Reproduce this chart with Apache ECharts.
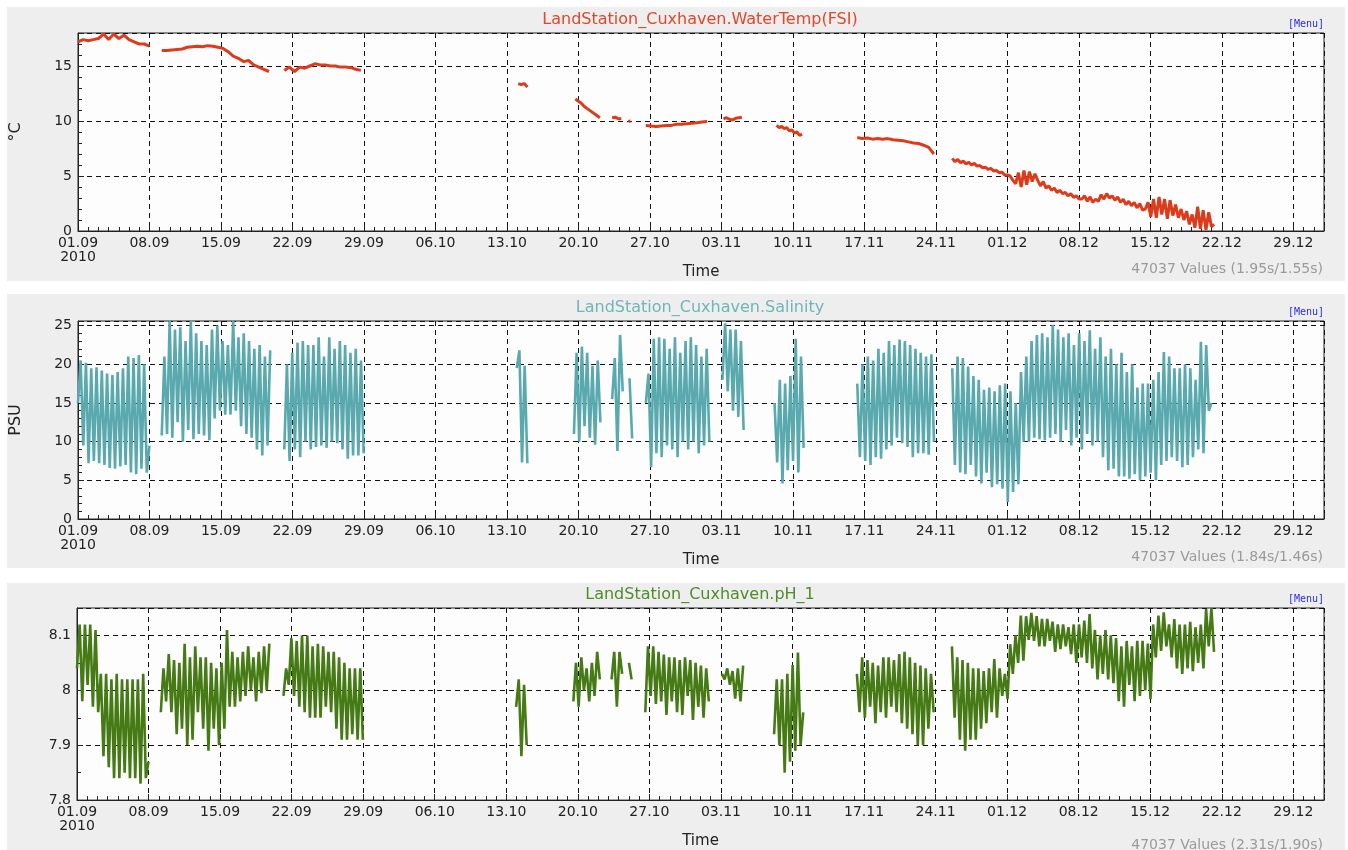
<!DOCTYPE html>
<html><head><meta charset="utf-8">
<script src="https://cdn.jsdelivr.net/npm/echarts@6/dist/echarts.min.js"></script>
<style>html,body{margin:0;padding:0;background:#fff}#c{width:1348px;height:850px}</style>
</head><body><div id="c"></div>
<script>
// ---- tick labels (x axis, one every 7 days from 01.09.2010) ----
const xTickLabels = ['01.09','08.09','15.09','22.09','29.09','06.10','13.10','20.10','27.10','03.11','10.11','17.11','24.11','01.12','08.12','15.12','22.12','29.12'];
const yearLabel = '2010';

// ---- Water temperature (°C): segment start day (offset from 01.09), spacing (days), values ----
const tempStarts = [0, 8.2, 20.2, 43.1, 48.7, 52.3, 53.9, 55.6, 63.2, 68.4, 76.3, 85.6];
const tempSteps  = [0.5, 0.5, 0.5, 0.3, 0.3, 0.3, 0.2, 0.5, 0.3, 0.25, 0.5, 0.27];
const temp1 = [17.2,17.4,17.3,17.4,17.5,17.9,17.4,17.9,17.5,17.8,17.4,17.2,17.0,17.0,16.8];
const temp2 = [16.4,16.4,16.45,16.5,16.55,16.7,16.75,16.8,16.75,16.85,16.8,16.7,16.6,16.3,15.9,15.7,15.4,15.5,15.1,14.9,14.7,14.5];
const temp3 = [14.6,14.9,14.5,14.9,14.8,15.0,15.2,15.1,15.1,15.0,15.0,14.9,14.9,14.85,14.7,14.6];
const temp4 = [13.4,13.3,13.4,13.1];
const temp5 = [12.0,11.8,11.6,11.3,11.1,10.9,10.7,10.5,10.3];
const temp6 = [10.3,10.35,10.2,10.2];
const temp7 = [9.95,10.0];
const temp8 = [9.6,9.55,9.5,9.55,9.6,9.6,9.7,9.7,9.75,9.8,9.85,9.9,9.95];
const temp9 = [10.2,10.3,10.15,10.1,10.25,10.3,10.35];
const temp10 = [9.6,9.4,9.5,9.3,9.4,9.1,9.2,8.9,9.0,8.7,8.8];
const temp11 = [8.5,8.4,8.45,8.35,8.4,8.35,8.4,8.3,8.25,8.2,8.1,8.0,7.95,7.8,7.6,7.0];
const temp12 = [6.6,6.3,6.5,6.2,6.35,6.1,6.25,6.0,6.15,5.9,5.95,5.75,5.8,5.6,5.7,5.45,5.5,5.3,5.35,5.1,5.1,
  5.0,4.6,4.3,5.3,4.0,5.5,4.2,5.4,4.5,5.2,
  4.6,4.1,4.5,3.9,4.1,3.7,3.9,3.5,3.7,3.4,3.5,3.2,3.4,3.05,3.2,2.9,
  2.9,3.2,2.7,3.1,2.6,2.9,2.7,3.3,2.9,3.4,3.0,
  3.2,2.8,3.1,2.6,2.9,2.4,2.7,2.3,2.6,2.1,2.5,1.9,2.0,
  2.6,1.3,2.9,1.2,3.1,1.5,2.9,1.1,2.8,1.4,2.4,1.2,
  2.0,1.0,1.8,0.6,1.5,0.3,2.2,0.2,1.9,0.1,1.7,0.4,0.6];

// ---- Salinity (PSU): alternating tidal highs / lows, spacing = half tidal period ----
const tideStep = 0.259;
const salStarts = [0, 8.2, 20.2, 42.96, 48.56, 52.3, 54.0, 55.6, 63.1, 68.2, 76.3, 85.6];
const sal1 = [15,20.5,9.5,20.2,7.2,19.5,7.5,19.6,7.2,19.2,7.0,18.8,6.6,18.6,6.5,19.0,6.8,19.5,7.0,21.0,6.0,20.8,5.8,21.2,6.5,20.0,6.0,9.5];
const sal2 = [10.8,21,11,25.7,10.5,24.5,12.5,24.8,10,23,11.5,25.6,10.3,24,11,23,10.8,22.5,10.2,24.5,13,25,14,23,13.5,22.5,13.5,25.7,14,23.5,12,24,11,23,10.5,22,9,22.5,8.2,21,9.5,21.8];
const sal3 = [9,20,7.5,21.5,9,22.8,8,23,10,22.5,9,22.5,9.3,23.5,9.5,21,9.2,23.5,10,22,9.8,23,9,22.5,7.8,21.5,8.2,22,8.2,20.5,8.5];
const sal4 = [19.5,21.8,7.3,19.8,7.2];
const sal5 = [11,21.5,10,22.3,12,21.5,10.5,19.8,9.6,20.5,12.5];
const sal6 = [15.5,20.8,8.8,23.8,16.5];
const sal7 = [18.2,10.4];
const sal8 = [15,18.8,6.7,23.3,8.5,23.5,8,23.3,9.5,22,9,23.5,8,21.5,10,23,9,23.5,10,22.5,8.5,21,9.5,22,10];
const sal9 = [18,25.3,16.5,24.5,14,24.5,13.2,23,11.5];
const sal10 = [15,7.3,18,4.6,17.5,6.3,18.5,7.5,23.3,6,21,9.2];
const sal11 = [17.5,8,20,7.5,21,7,20.5,8,22,7.8,21.5,9,23,9.5,22.5,10.5,23.2,9.8,23,9.3,22.5,8,22,8.5,21.5,8.5,21,8.3,21.3,10];
const sal12 = [19.5,7,21,6,20.8,5.8,19.7,7,18.5,5.5,18,4.6,16.7,6,17,4.1,16.5,4.5,17.3,3.9,17.5,
  2.2,16.5,3.5,15,4.5,19,10,21,10,23,10.5,23.8,10.3,24,10.2,23.5,10.5,25.1,11,24.5,10,23.5,11.5,24,9.5,22.5,10.5,
  24,9,23,11,24.4,9.5,22,10,23.5,8,21,6.3,22,6.5,20,5.5,21.5,5.5,19,5.2,20,5.8,17,5,17.5,5.5,17.5,
  6,18,5,19,7,21.6,7.5,21,8,19.5,7.5,19.5,6.7,20,7,19.5,8,18,9,22.9,8.5,22.5,14,15];

// ---- pH ----
const phStarts = [0, 8.2, 20.2, 42.96, 48.56, 52.3, 54.0, 55.6, 63.1, 68.2, 76.3, 85.6];
const ph1 = [8.04,8.12,7.98,8.12,8.01,8.12,7.97,8.11,7.96,8.03,7.88,8.03,7.86,8.02,7.84,8.03,7.84,8.02,7.85,8.02,7.84,8.02,7.84,8.02,7.83,8.03,7.84,7.87];
const ph2 = [7.96,8.04,7.98,8.066,7.96,8.055,7.92,8.05,7.93,8.085,7.90,8.06,7.91,8.08,7.96,8.06,7.93,8.06,7.89,8.05,7.93,8.04,7.90,8.05,7.93,8.11,7.97,8.07,7.97,8.06,7.98,8.07,7.99,8.08,8.0,8.06,7.98,8.07,7.995,8.08,8.0,8.085];
const ph3 = [7.99,8.04,8.01,8.095,7.99,8.09,7.97,8.1,7.96,8.1,7.95,8.08,7.95,8.085,7.95,8.08,7.97,8.07,7.96,8.07,7.93,8.06,7.91,8.05,7.91,8.04,7.92,8.04,7.91,8.04,7.91];
const ph4 = [7.97,8.02,7.88,8.01,7.90];
const ph5 = [7.98,8.05,7.97,8.06,8.0,8.04,7.98,8.05,7.99,8.07,8.02];
const ph6 = [8.02,8.07,7.97,8.07,8.03];
const ph7 = [8.05,8.02];
const ph8 = [7.96,8.08,7.99,8.08,7.975,8.07,7.98,8.065,7.955,8.06,7.98,8.06,7.96,8.055,7.955,8.06,7.99,8.055,7.946,8.05,7.97,8.045,7.95,8.04,7.98];
const ph9 = [8.03,8.02,8.04,8.01,8.035,7.985,8.04,7.98,8.045];
const ph10 = [7.92,8.02,7.90,8.02,7.85,8.03,7.87,8.046,7.89,8.069,7.90,7.96];
const ph11 = [8.03,7.96,8.06,7.95,8.055,7.97,8.05,7.94,8.045,7.96,8.06,7.95,8.06,7.97,8.055,7.96,8.066,7.94,8.07,7.93,8.06,7.92,8.05,7.90,8.045,7.90,8.04,7.93,8.03,7.96];
const ph12 = [8.08,7.95,8.06,7.91,8.055,7.89,8.05,7.91,8.04,7.91,8.04,7.93,8.035,7.94,8.04,7.96,8.057,7.95,8.04,7.99,
  8.03,7.984,8.084,8.03,8.1,8.05,
  8.136,8.054,8.135,8.092,8.141,8.09,8.135,8.08,8.13,8.08,8.13,8.09,8.125,8.07,8.12,8.075,8.12,8.08,8.115,8.066,8.12,8.05,
  8.12,8.06,8.127,8.05,8.139,8.04,8.11,8.02,8.1,8.03,8.11,8.02,8.1,8.013,8.095,7.98,8.08,7.97,8.09,8.01,8.08,7.98,8.09,7.99,8.09,8.0,8.085,
  7.984,8.12,8.06,8.136,8.072,8.142,8.08,8.12,8.06,8.13,8.04,8.12,8.03,8.12,8.04,8.125,8.035,8.115,8.05,8.12,8.04,8.148,8.08,8.15,8.07];

// ---- texts ----
const titles = ['LandStation_Cuxhaven.WaterTemp(FSI)','LandStation_Cuxhaven.Salinity','LandStation_Cuxhaven.pH_1'];
const yNames = ['°C','PSU',''];
const infoTexts = ['47037 Values (1.95s/1.55s)','47037 Values (1.84s/1.46s)','47037 Values (2.31s/1.90s)'];

function build(starts, steps, segs){
  const out = [];
  segs.forEach((seg, k) => {
    if (k > 0) out.push([starts[k] - 0.05, '-']);
    const st = Array.isArray(steps) ? steps[k] : steps;
    seg.forEach((v, i) => out.push([starts[k] + i * st, v]));
  });
  return out;
}
const tempData = build(tempStarts, tempSteps, [temp1,temp2,temp3,temp4,temp5,temp6,temp7,temp8,temp9,temp10,temp11,temp12]);
const salData  = build(salStarts, tideStep, [sal1,sal2,sal3,sal4,sal5,sal6,sal7,sal8,sal9,sal10,sal11,sal12]);
const phData   = build(phStarts, tideStep, [ph1,ph2,ph3,ph4,ph5,ph6,ph7,ph8,ph9,ph10,ph11,ph12]);

const FONT = 'DejaVu Sans';
const panels = [
  {bgTop:7,   bgH:274, gTop:33,  gH:198, min:0,   max:18,   interval:5,   minor:5, color:'#dc3b1c', tcolor:'#e0472b', lw:3,   data:tempData},
  {bgTop:294, bgH:274, gTop:321, gH:198, min:0,   max:25.6, interval:5,   minor:5, color:'#5aa9ae', tcolor:'#6fb6b9', lw:2.6, data:salData},
  {bgTop:583, bgH:280, gTop:608, gH:199, min:7.8, max:8.15, interval:0.1, minor:2, color:'#457a15', tcolor:'#4f8c2a', lw:2.6, data:phData}
];
const GL = 77, GW = 1247;

const grids = [], xAxes = [], yAxes = [], series = [], graphics = [];
panels.forEach((p, i) => {
  graphics.push({type:'rect', z:-10, shape:{x:7, y:p.bgTop, width:1338, height:p.bgH}, style:{fill:'#eeeeee'}, silent:true});
  graphics.push({type:'text', x:700, y:p.gTop - 13, style:{text:titles[i], fill:p.tcolor, font:'16px "DejaVu Sans"', textAlign:'center', textVerticalAlign:'middle'}});
  graphics.push({type:'text', x:1324, y:p.gTop - 9, style:{text:'[Menu]', fill:'#2a2ae8', font:'10px "DejaVu Sans Mono"', textAlign:'right', textVerticalAlign:'middle'}});
  graphics.push({type:'text', x:1323, y:p.gTop + p.gH + 38, style:{text:infoTexts[i], fill:'#9a9a9a', font:'14px "DejaVu Sans"', textAlign:'right', textVerticalAlign:'middle'}});
  grids.push({left:GL, top:p.gTop, width:GW, height:p.gH, show:true, backgroundColor:'#fdfdfd', borderColor:'#222', borderWidth:1, containLabel:false});
  xAxes.push({
    type:'value', gridIndex:i, min:0, max:122, interval:7,
    axisLine:{show:true, onZero:false, lineStyle:{color:'#222', width:1}},
    axisTick:{show:true, inside:true, length:6, lineStyle:{color:'#222'}},
    minorTick:{show:true, splitNumber:7, length:4, lineStyle:{color:'#222'}},
    splitLine:{show:true, lineStyle:{color:'#111', type:[5,4], width:1}},
    axisLabel:{
      color:'#222', fontSize:14, fontFamily:FONT, margin:5, lineHeight:14, showMaxLabel:false,
      formatter:(v) => { const k = Math.round(v / 7); const s = xTickLabels[k] || ''; return k === 0 ? s + '\n' + yearLabel : s; }
    },
    name:'Time', nameLocation:'middle', nameGap:26,
    nameTextStyle:{color:'#222', fontSize:15, fontFamily:FONT}
  });
  yAxes.push({
    type:'value', gridIndex:i, min:p.min, max:p.max, interval:p.interval,
    axisLine:{show:true, onZero:false, lineStyle:{color:'#222', width:1}},
    axisTick:{show:true, inside:true, length:6, lineStyle:{color:'#222'}},
    minorTick:{show:true, splitNumber:p.minor, length:4, lineStyle:{color:'#222'}},
    splitLine:{show:true, lineStyle:{color:'#111', type:[5,4], width:1}},
    axisLabel:{color:'#222', fontSize:14, fontFamily:FONT, margin:6, showMaxLabel:false,
      formatter:(v) => String(+v.toFixed(2))},
    name:yNames[i], nameLocation:'middle', nameGap:54, nameRotate:90,
    nameTextStyle:{color:'#222', fontSize:16, fontFamily:FONT}
  });
  series.push({
    type:'line', xAxisIndex:i, yAxisIndex:i, data:p.data, showSymbol:false, symbol:'none',
    connectNulls:false, lineStyle:{color:p.color, width:p.lw}, itemStyle:{color:p.color},
    clip:true, animation:false, z:3
  });
});

const chart = echarts.init(document.getElementById('c'), null, {renderer:'canvas'});
chart.setOption({
  backgroundColor:'#ffffff',
  animation:false,
  textStyle:{fontFamily:FONT},
  grid:grids, xAxis:xAxes, yAxis:yAxes, series:series,
  graphic:{elements:graphics}
});
</script>
</body></html>
